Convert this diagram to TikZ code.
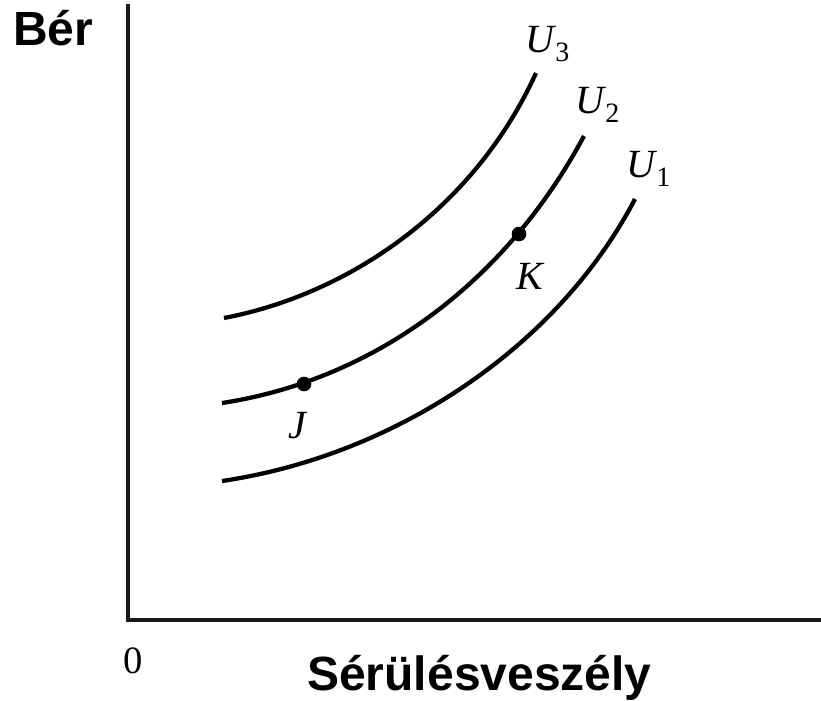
\documentclass[tikz,border=0pt]{standalone}
\usepackage{fontspec}
\setmainfont{Liberation Serif}
\newfontfamily\lsans{Liberation Sans}
\begin{document}
\begin{tikzpicture}[x=0.75pt,y=-0.75pt,
  axis/.style={line width=2.6pt,black!90},
  curve/.style={line width=3.2pt,line cap=butt},
  dot/.style={circle,fill=black,inner sep=0pt,minimum size=11pt},
  axlabel/.style={font=\lsans\bfseries\fontsize{36}{40}\selectfont,inner sep=0pt,anchor=base west},
  clabel/.style={font=\fontsize{30}{32}\selectfont,inner sep=0pt,anchor=base west}]
\useasboundingbox (0,0) rectangle (821,700);
% axes
\coordinate (top) at (128,4);
\coordinate (origin) at (128,620);
\coordinate (right) at (821,620);
\draw[axis] (top) -- (origin) -- (right);
% curves
\coordinate (u3s) at (224,318); \coordinate (u3e) at (536,73);
\coordinate (u2s) at (222,403); \coordinate (u2e) at (584,136);
\coordinate (u1s) at (222,481); \coordinate (u1e) at (635,199);
\draw[curve] (u3s) .. controls (354,293) and (476,205) .. (u3e);
\draw[curve] (u2s) .. controls (372,380) and (504,285) .. (u2e);
\draw[curve] (u1s) .. controls (392,456) and (556,350) .. (u1e);
% points
\node[dot] (J) at (304,384) {};
\node[dot] (K) at (519,234) {};
% labels
\node[clabel] (lJ) at (288,438) {\itshape J};
\node[clabel] (lK) at (516,289) {\itshape K};
\node[clabel] (l3) at (525,52) {\itshape U\kern1pt\raisebox{-7pt}{\upshape\fontsize{21}{22}\selectfont 3}};
\node[clabel] (l2) at (575,113) {\itshape U\kern1pt\raisebox{-7pt}{\upshape\fontsize{21}{22}\selectfont 2}};
\node[clabel] (l1) at (626,177) {\itshape U\kern1pt\raisebox{-7pt}{\upshape\fontsize{21}{22}\selectfont 1}};
\node[font=\fontsize{29}{30}\selectfont,inner sep=0pt,anchor=base west] (zero) at (123,673) {0};
\node[axlabel] (ber) at (13,45) {Bér};
\node[axlabel] (ser) at (307,690) {Sérülésveszély};
\end{tikzpicture}
\end{document}
